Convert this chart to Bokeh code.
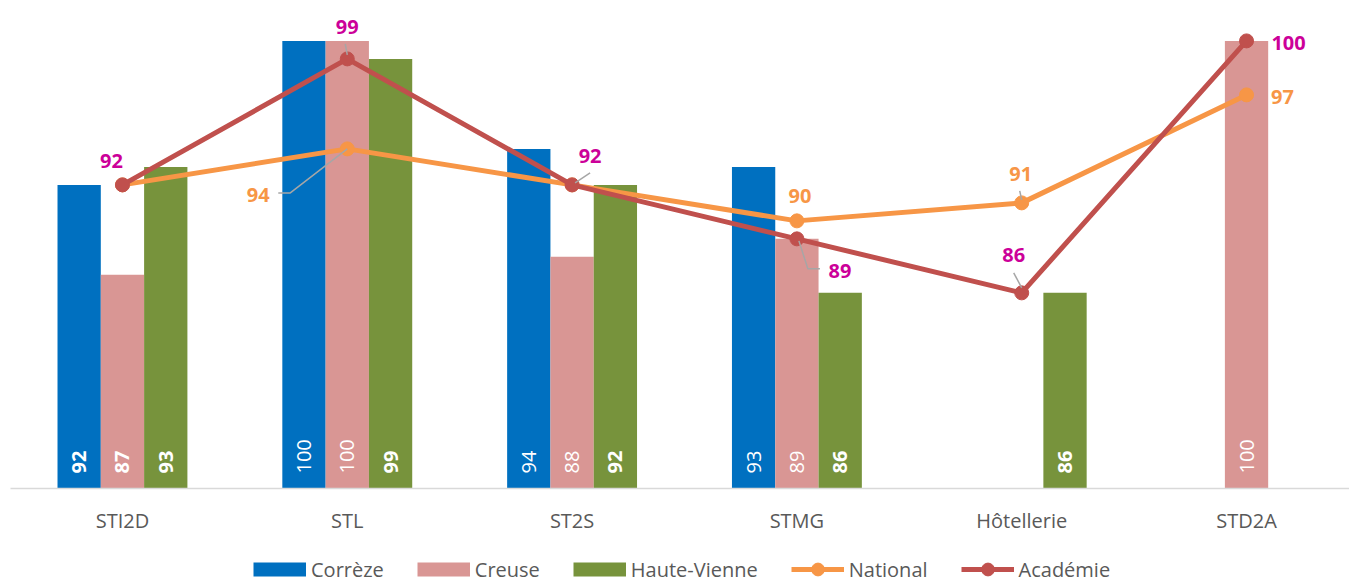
import numpy as np
from bokeh.plotting import figure
from bokeh.layouts import column
from bokeh.models import ColumnDataSource, Range1d, FixedTicker, Legend, LegendItem
from bokeh.embed import file_html
from bokeh.resources import INLINE
from bokeh.core.properties import value

# ---------------- data ----------------
categories = ["STI2D", "STL", "ST2S", "STMG", "Hôtellerie", "STD2A"]
correze = [92, 100, 94, 93, None, None]
creuse = [87, 100, 88, 89, None, 100]
haute_vienne = [93, 99, 92, 86, 86, None]
national = [92, 94, 92, 90, 91, 97]
academie = [92, 99, 92, 89, 86, 100]
national_label_shown = [False, True, False, True, True, True]
academie_label_shown = [True, True, True, True, True, True]

# ---------------- styles ----------------
C_BLUE, C_PINK, C_GREEN = "#0070c0", "#d99694", "#77933c"
C_NAT, C_ACA = "#f79646", "#c0504d"
C_ACA_LBL = "#cc0099"
C_TXT = "#595959"
FONT = "Open Sans"

X_START, X_END = -0.498, 5.458
Y_START, Y_END = 75.13, 101.8
FRAME_W, FRAME_H = 1339, 480
PX_X = FRAME_W / (X_END - X_START)
PX_Y = FRAME_H / (Y_END - Y_START)
BAR_W = 0.1926

p = figure(width=1349, height=540, output_backend="svg", toolbar_location=None,
           x_range=Range1d(X_START, X_END), y_range=Range1d(Y_START, Y_END),
           y_axis_location=None,
           min_border_left=10, min_border_right=0, min_border_top=8, min_border_bottom=52,
           outline_line_color=None, background_fill_color="white", border_fill_color="white")
p.xgrid.visible = False
p.ygrid.visible = False

ax = p.xaxis[0]
ax.ticker = FixedTicker(ticks=list(range(len(categories))))
ax.major_label_overrides = {i: c for i, c in enumerate(categories)}
ax.major_tick_line_color = None
ax.minor_tick_line_color = None
ax.major_tick_out = 0
ax.major_tick_in = 0
ax.axis_line_color = "#d9d9d9"
ax.axis_line_width = 1.5
ax.major_label_text_font = FONT
ax.major_label_text_font_size = "20px"
ax.major_label_text_color = C_TXT
ax.major_label_standoff = 18

# ---------------- bars ----------------
series = [("Corrèze", correze, C_BLUE, -1), ("Creuse", creuse, C_PINK, 0), ("Haute-Vienne", haute_vienne, C_GREEN, 1)]
lbl_x, lbl_t, lbl_style = [], [], []
for name, vals, color, off in series:
    xs = [i + off * BAR_W for i, v in enumerate(vals) if v is not None]
    ys = [v for v in vals if v is not None]
    p.vbar(x=xs, top=ys, width=BAR_W, bottom=0, fill_color=color, line_color=None)
    for i, v in enumerate(vals):
        if v is None:
            continue
        lbl_x.append(i + off * BAR_W)
        lbl_t.append(str(v))
        lbl_style.append("bold" if (name == "Haute-Vienne" or categories[i] == "STI2D") else "normal")

bar_lbl = ColumnDataSource(dict(x=lbl_x, y=[Y_START] * len(lbl_x), t=lbl_t, s=lbl_style))
p.text(x="x", y="y", text="t", source=bar_lbl, angle=np.pi / 2, text_align="left",
       text_baseline="middle", y_offset=-15, text_color="white",
       text_font=value(FONT), text_font_size="20px", text_font_style="s")

# ---------------- lines ----------------
xi = list(range(len(categories)))
p.line(xi, national, line_color=C_NAT, line_width=5)
p.scatter(xi, national, size=14, fill_color=C_NAT, line_color=C_NAT)
p.line(xi, academie, line_color=C_ACA, line_width=5)
p.scatter(xi, academie, size=14, fill_color=C_ACA, line_color=C_ACA)

# ---------------- leader lines (pixel offsets from the point) ----------------
leaders = [
    (academie, 1, [(-2, -15), (0, -4)]),
    (academie, 2, [(18, -12), (3, -2)]),
    (academie, 3, [(2, 2), (11, 30), (23, 30)]),
    (academie, 4, [(-8, -20), (0, -5)]),
    (national, 4, [(-2, -12), (0, -3)]),
    (national, 1, [(-69, 44), (-57, 44), (0, 0)]),
]
lx, ly = [], []
for vals, i, pts in leaders:
    lx.append([i + dx / PX_X for dx, dy in pts])
    ly.append([vals[i] - dy / PX_Y for dx, dy in pts])
p.multi_line(lx, ly, line_color="#a6a6a6", line_width=1.5)

# ---------------- data labels ----------------
aca_off = [(-11, -24), (0, -32), (18, -29), (43, 32), (-8, -38), (42, 2)]
nat_off = [(0, -25), (-89, 46), (0, -25), (3, -25), (-1, -29), (36, 2)]
for vals, shown, offs, col in [(national, national_label_shown, nat_off, C_NAT),
                               (academie, academie_label_shown, aca_off, C_ACA_LBL)]:
    for i, v in enumerate(vals):
        if not shown[i]:
            continue
        p.text(x=[i], y=[v], text=[str(v)], x_offset=offs[i][0], y_offset=offs[i][1],
               text_align="center", text_baseline="middle", text_color=col,
               text_font=value(FONT), text_font_size="20px", text_font_style="bold")

# ---------------- legend strip (separate figure below the chart) ----------------
lg = figure(width=1349, height=42, output_backend="svg", toolbar_location=None,
            x_range=Range1d(0, 1), y_range=Range1d(0, 1),
            x_axis_location=None, y_axis_location=None,
            min_border_left=0, min_border_right=0, min_border_top=0, min_border_bottom=0,
            outline_line_color=None, background_fill_color="white", border_fill_color="white")
lg.xgrid.visible = False
lg.ygrid.visible = False
items = []
for name, vals, color, off in series:
    sw = lg.line(x=[np.nan], y=[np.nan], line_color=color, line_width=14)
    items.append(LegendItem(label=name, renderers=[sw]))
for name, color in [("National", C_NAT), ("Académie", C_ACA)]:
    l1 = lg.line(x=[np.nan], y=[np.nan], line_color=color, line_width=5)
    m1 = lg.scatter(x=[np.nan], y=[np.nan], size=14, fill_color=color, line_color=color)
    items.append(LegendItem(label=name, renderers=[l1, m1]))
leg = Legend(items=items, location=(243, -3), orientation="horizontal",
             glyph_width=53, glyph_height=32, spacing=33, label_standoff=5,
             padding=0, margin=0, border_line_color=None, background_fill_alpha=0,
             label_text_font=FONT, label_text_font_size="20px", label_text_color=C_TXT)
lg.add_layout(leg)

page = column(p, lg, spacing=0)
open("out.html", "w").write(file_html(page, INLINE))
